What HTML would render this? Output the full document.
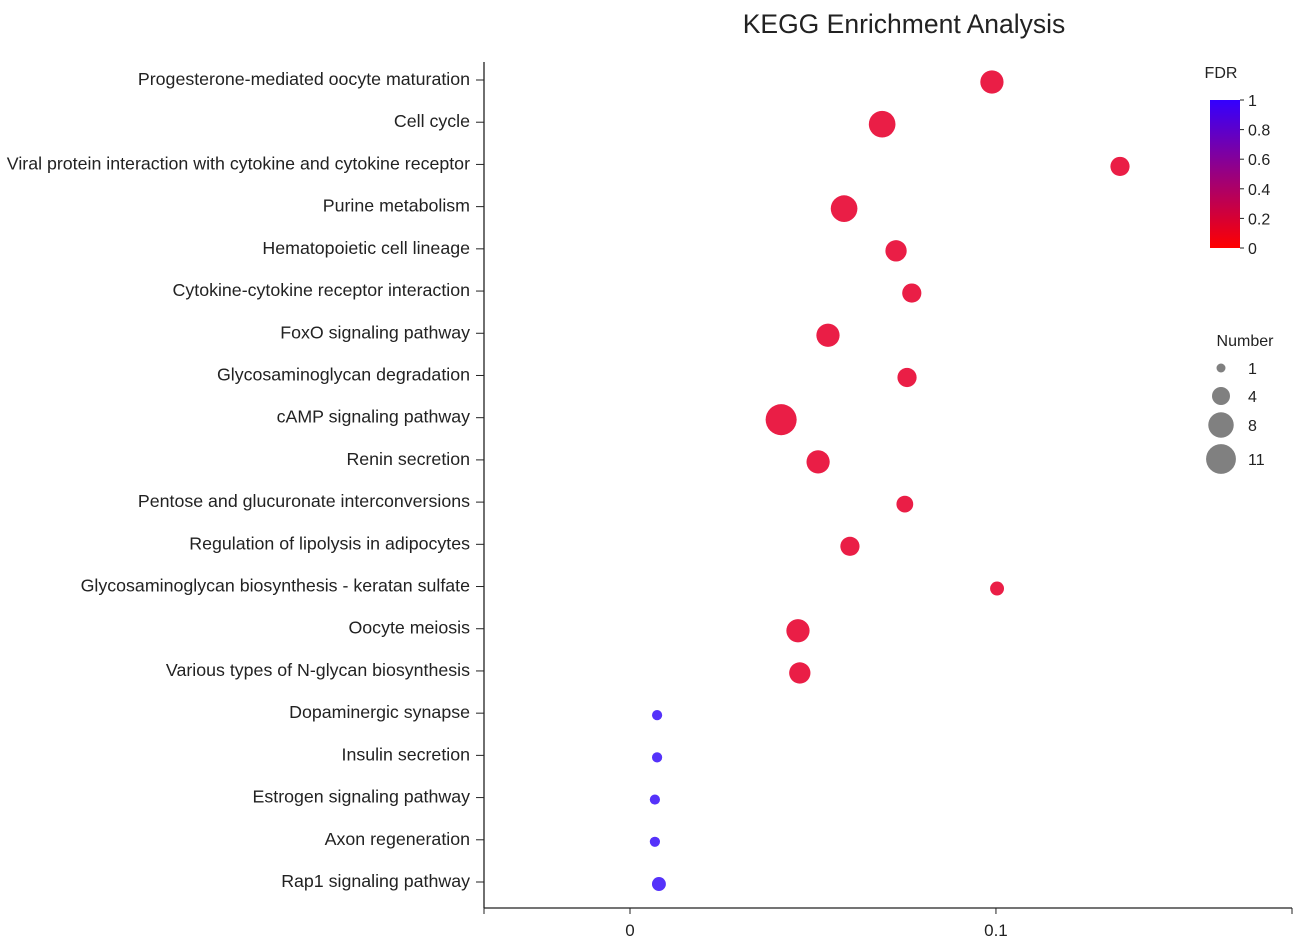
<!DOCTYPE html>
<html><head><meta charset="utf-8"><style>
html,body{margin:0;padding:0;background:#fff;}
svg{display:block;font-family:"Liberation Sans",Arial,sans-serif;}
</style></head><body>
<svg id="chart" width="1299" height="946">
<defs><linearGradient id="fdrGrad" x1="0" y1="1" x2="0" y2="0">
<stop offset="0" stop-color="#ff0000"/><stop offset="1" stop-color="#3300ff"/></linearGradient></defs>
<text x="904" y="33" font-size="26.5" text-anchor="middle" fill="#222">KEGG Enrichment Analysis</text>
<g id="plot"></g>
<g>
<text x="1221" y="78" font-size="16" text-anchor="middle" fill="#222">FDR</text>
<rect x="1210" y="100" width="30" height="148" fill="url(#fdrGrad)"/>
<g id="fdrTicks"></g>
</g>
<g>
<text x="1245" y="346" font-size="16" text-anchor="middle" fill="#222">Number</text>
<g id="sizeLegend"></g>
</g>
</svg>
<script>
const categories=["Progesterone-mediated oocyte maturation","Cell cycle","Viral protein interaction with cytokine and cytokine receptor","Purine metabolism","Hematopoietic cell lineage","Cytokine-cytokine receptor interaction","FoxO signaling pathway","Glycosaminoglycan degradation","cAMP signaling pathway","Renin secretion","Pentose and glucuronate interconversions","Regulation of lipolysis in adipocytes","Glycosaminoglycan biosynthesis - keratan sulfate","Oocyte meiosis","Various types of N-glycan biosynthesis","Dopaminergic synapse","Insulin secretion","Estrogen signaling pathway","Axon regeneration","Rap1 signaling pathway"];
const richValues=[0.0989,0.0689,0.1339,0.0585,0.0727,0.0770,0.0541,0.0757,0.0413,0.0514,0.0751,0.0601,0.1003,0.0459,0.0464,0.0074,0.0074,0.0068,0.0068,0.0079];
const geneCounts=[6,8,4,8,5,4,6,4,11,6,3,4,2,6,5,1,1,1,1,2];
const fdrValues=[0.1,0.1,0.1,0.1,0.1,0.1,0.1,0.1,0.1,0.1,0.1,0.1,0.1,0.1,0.1,0.9,0.9,0.9,0.9,0.9];
const xTicks=[0,0.1];
const xTickLabels=["0","0.1"];
const fdrTicks=[0,0.2,0.4,0.6,0.8,1];
const fdrTickLabels=["0","0.2","0.4","0.6","0.8","1"];
const sizeLegendCounts=[1,4,8,11];

const NS="http://www.w3.org/2000/svg";
const L=484,R=1292,T=62,B=908;
const xMin=-0.0399,xMax=0.1809;
const x=v=>L+(v-xMin)/(xMax-xMin)*(R-L);
const yRow=i=>80+i*(882-80)/(categories.length-1);
const rad=n=>4.5*Math.sqrt(n)+0.6;
function col(f){
 if(f<0.5){return `rgb(${Math.round(238-40*f)},${Math.round(30)},${Math.round(55+150*f)})`;}
 return `rgb(${Math.round(85)},${Math.round(50)},${Math.round(200+55*f)})`;}
function mk(tag,attrs,parent){const e=document.createElementNS(NS,tag);for(const k in attrs)e.setAttribute(k,attrs[k]);parent.appendChild(e);return e;}
const g=document.getElementById('plot');
let e=mk('line',{x1:L,y1:T,x2:L,y2:B,stroke:'#222','stroke-width':1.3},g);


e=mk('line',{x1:L,y1:B,x2:R,y2:B,stroke:'#222','stroke-width':1.3},g);


[xMin,xMax].forEach(v=>{e=mk('line',{x1:x(v),y1:B,x2:x(v),y2:B+6,stroke:'#222'},g);

});
xTicks.forEach((v,i)=>{
 e=mk('line',{x1:x(v),y1:B,x2:x(v),y2:B+6,stroke:'#222'},g);
 
 
 e=mk('text',{x:x(v),y:B+28,'font-size':17,'text-anchor':'middle',fill:'#222'},g);e.textContent=xTickLabels[i];
 
 
});
categories.forEach((c,i)=>{
 const y=yRow(i);
 e=mk('line',{x1:L-8,y1:y,x2:L,y2:y,stroke:'#222'},g);
 
 
 e=mk('text',{x:470,y:y+5,'font-size':17.8,'text-anchor':'end',fill:'#222'},g);e.textContent=c;
 
 
 e=mk('circle',{cx:x(richValues[i]),cy:y+2,r:rad(geneCounts[i]),fill:col(fdrValues[i])},g);
 
 
});
const ft=document.getElementById('fdrTicks');
fdrTicks.forEach((v,i)=>{const y=248-v*148;
 e=mk('line',{x1:1240,y1:y,x2:1244,y2:y,stroke:'#222'},ft);
 
 
 e=mk('text',{x:1248,y:y+6,'font-size':16,fill:'#222'},ft);e.textContent=fdrTickLabels[i];
 
 
});
const sl=document.getElementById('sizeLegend');
const sly=[368,396,425,459];
sizeLegendCounts.forEach((n,i)=>{
 e=mk('circle',{cx:1221,cy:sly[i],r:4.5*Math.sqrt(n),fill:'#808080'},sl);
 
 
 e=mk('text',{x:1248,y:sly[i]+6,'font-size':16,fill:'#222'},sl);e.textContent=String(n);
 
 
});
</script>
</body></html>
